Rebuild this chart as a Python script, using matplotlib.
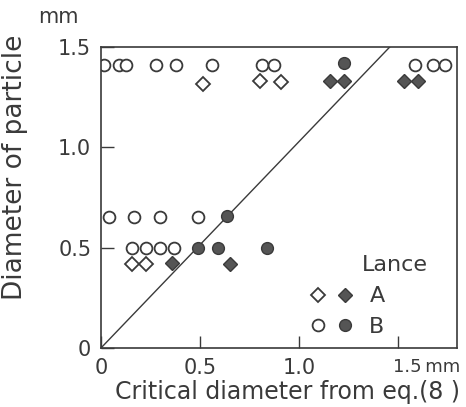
import matplotlib
matplotlib.use("Agg")
import matplotlib.pyplot as plt
from matplotlib.lines import Line2D
from matplotlib.legend_handler import HandlerTuple
from matplotlib.transforms import ScaledTranslation

# Lance B, open circles
b_open_x = [0.015, 0.09, 0.126, 0.277, 0.38, 0.56, 0.815, 0.875, 1.59, 1.68, 1.74,
            0.04, 0.166, 0.30, 0.49,
            0.157, 0.23, 0.30, 0.37]
b_open_y = [1.41, 1.41, 1.41, 1.41, 1.41, 1.41, 1.41, 1.41, 1.41, 1.41, 1.41,
            0.655, 0.655, 0.655, 0.655,
            0.50, 0.50, 0.50, 0.50]
# Lance B, filled circles
b_fill_x = [1.228, 0.635, 0.49, 0.59, 0.84]
b_fill_y = [1.42, 0.66, 0.50, 0.50, 0.50]
# Lance A, open diamonds
a_open_x = [0.515, 0.805, 0.91, 0.157, 0.23]
a_open_y = [1.315, 1.33, 1.325, 0.42, 0.42]
# Lance A, filled diamonds
a_fill_x = [1.16, 1.23, 1.53, 1.605, 0.357, 0.65]
a_fill_y = [1.33, 1.33, 1.33, 1.33, 0.425, 0.42]
# reference line
line_x = [0.0, 1.46]
line_y = [0.0, 1.50]

xticks = [0, 0.5, 1.0, 1.5]
xticklabels = ["0", "0.5", "1.0", "1.5\u2009mm"]
yticks = [0, 0.5, 1.0, 1.5]
yticklabels = ["0", "0.5", "1.0", "1.5"]
legend_labels = ["A", "B"]

plt.rcParams['font.family'] = ['DejaVu Sans']
fig = plt.figure(figsize=(4.66, 4.07), dpi=100)
ax = fig.add_axes([0.2167, 0.145, 0.764, 0.7395])

ink = '#3a3a3a'
fill = '#555555'
ms_c = 8.5
ms_d = 7.2
ax.plot(line_x, line_y, color=ink, lw=1.0)
ax.plot(b_open_x, b_open_y, 'o', ms=ms_c, mfc='white', mec=ink, mew=1.3, ls='none')
ax.plot(b_fill_x, b_fill_y, 'o', ms=ms_c, mfc=fill, mec=ink, mew=1.0, ls='none')
ax.plot(a_open_x, a_open_y, 'D', ms=ms_d, mfc='white', mec=ink, mew=1.3, ls='none')
ax.plot(a_fill_x, a_fill_y, 'D', ms=ms_d, mfc=fill, mec=ink, mew=1.0, ls='none')

ax.set_xlim(0, 1.8)
ax.set_ylim(0, 1.5)
ax.set_xticks(xticks)
ax.set_xticklabels(xticklabels)
ax.set_yticks(yticks)
ax.set_yticklabels(yticklabels)
ax.tick_params(direction='in', length=9, width=1.0, labelsize=15, colors=ink)
ax.tick_params(axis='x', pad=7)
ax.tick_params(axis='y', pad=7)
for s in ax.spines.values():
    s.set_linewidth(1.2)
    s.set_color(ink)

# last x tick label "1.5 mm" starts at its tick
lbl = ax.get_xticklabels()[-1]
lbl.set_horizontalalignment('left')
lbl.set_fontsize(13)
lbl.set_transform(lbl.get_transform() + ScaledTranslation(-5/100, 0, fig.dpi_scale_trans))

ax.set_xlabel("Critical diameter from eq.(8 )", fontsize=17, color=ink)
ax.xaxis.set_label_coords(0.525, -0.105)
ax.xaxis.label.set_va('top')
ax.set_ylabel("Diameter of particle", fontsize=19, color=ink)
ax.yaxis.set_label_coords(-0.205, 0.6)
fig.text(0.125, 0.958, "mm", fontsize=15, color=ink, ha='center', va='center')

h_ao = Line2D([], [], marker='D', ms=ms_d, mfc='white', mec=ink, mew=1.3, ls='none')
h_af = Line2D([], [], marker='D', ms=ms_d, mfc=fill, mec=ink, mew=1.0, ls='none')
h_bo = Line2D([], [], marker='o', ms=ms_c, mfc='white', mec=ink, mew=1.3, ls='none')
h_bf = Line2D([], [], marker='o', ms=ms_c, mfc=fill, mec=ink, mew=1.0, ls='none')
leg = ax.legend(handles=[(h_ao, h_af), (h_bo, h_bf)], labels=legend_labels,
                handler_map={tuple: HandlerTuple(ndivide=None, pad=0.43)},
                frameon=False, fontsize=16,
                loc='upper left', bbox_to_anchor=(0.584, 0.205), handlelength=2.0,
                handletextpad=0.72, labelspacing=0.47, borderaxespad=0, borderpad=0)
for t in leg.get_texts():
    t.set_color(ink)
ax.text(0.733, 0.277, "Lance", transform=ax.transAxes, fontsize=16, color=ink,
        ha='left', va='center')

fig.savefig("out.png", dpi=100)
